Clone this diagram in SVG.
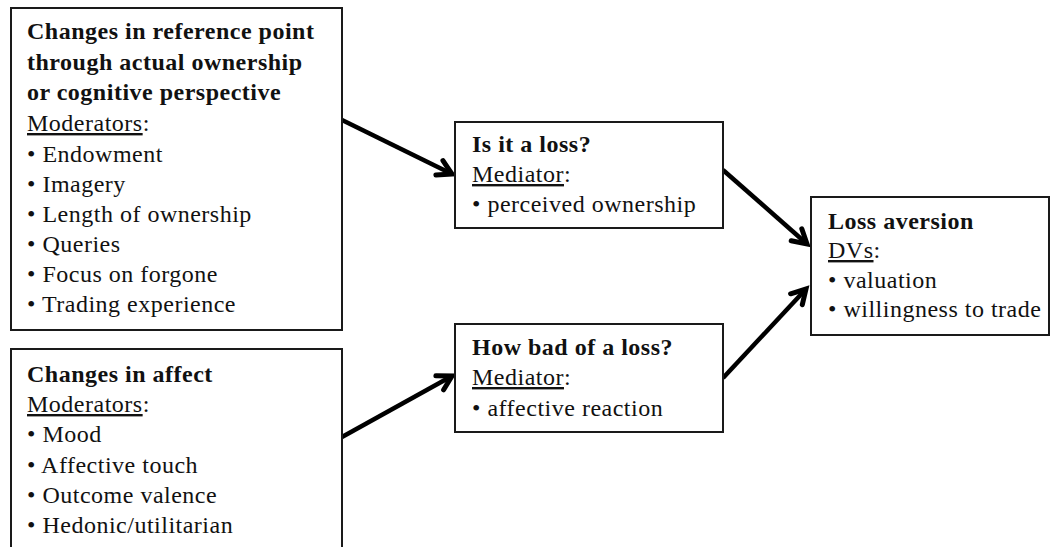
<svg xmlns="http://www.w3.org/2000/svg" width="1051" height="547" viewBox="0 0 1051 547">
<style>
.box{fill:#fff;stroke:#1a1a1a;stroke-width:2}
text{font-family:"Liberation Serif","Times New Roman",serif;font-size:24px;fill:#111;letter-spacing:0.5px}
.b{font-weight:bold}
.u{text-decoration:underline}
.conn{stroke:#000;stroke-width:4.5;fill:none}
</style>
<defs>
<marker id="ah" markerUnits="userSpaceOnUse" markerWidth="40" markerHeight="40" orient="auto" overflow="visible" refX="0" refY="0">
<path d="M-14,-8 L0,0 L-14,8" fill="none" stroke="#000" stroke-width="5" stroke-linejoin="miter" stroke-linecap="round"/>
</marker>
</defs>
<rect width="1051" height="547" fill="#fff"/>
<g id="connectors">
<line class="conn" x1="342" y1="120" x2="452" y2="174" marker-end="url(#ah)"/>
<line class="conn" x1="342" y1="437" x2="452" y2="376" marker-end="url(#ah)"/>
<line class="conn" x1="723" y1="170" x2="807" y2="244" marker-end="url(#ah)"/>
<line class="conn" x1="723" y1="378" x2="806" y2="289" marker-end="url(#ah)"/>
</g>
<g id="node-reference">
<rect class="box" x="11" y="8" width="331" height="322"/>
<text x="27" y="39" class="b">Changes in reference point</text>
<text x="27" y="70" class="b">through actual ownership</text>
<text x="27" y="100" class="b">or cognitive perspective</text>
<text x="27" y="131"><tspan class="u">Moderators</tspan>:</text>
<text x="27" y="162">• Endowment</text>
<text x="27" y="192">• Imagery</text>
<text x="27" y="222">• Length of ownership</text>
<text x="27" y="252">• Queries</text>
<text x="27" y="282">• Focus on forgone</text>
<text x="27" y="312">• Trading experience</text>
</g>
<g id="node-affect">
<rect class="box" x="11" y="349" width="331" height="210"/>
<text x="27" y="382" class="b">Changes in affect</text>
<text x="27" y="412"><tspan class="u">Moderators</tspan>:</text>
<text x="27" y="442">• Mood</text>
<text x="27" y="473">• Affective touch</text>
<text x="27" y="503">• Outcome valence</text>
<text x="27" y="533">• Hedonic/utilitarian</text>
</g>
<g id="node-isloss">
<rect class="box" x="455" y="122" width="268" height="106"/>
<text x="472" y="152" class="b">Is it a loss?</text>
<text x="472" y="182"><tspan class="u">Mediator</tspan>:</text>
<text x="472" y="212">• perceived ownership</text>
</g>
<g id="node-howbad">
<rect class="box" x="455" y="324" width="268" height="108"/>
<text x="472" y="355" class="b">How bad of a loss?</text>
<text x="472" y="385"><tspan class="u">Mediator</tspan>:</text>
<text x="472" y="416">• affective reaction</text>
</g>
<g id="node-lossaversion">
<rect class="box" x="811" y="197" width="238" height="138"/>
<text x="828" y="229" class="b">Loss aversion</text>
<text x="828" y="258"><tspan class="u">DVs</tspan>:</text>
<text x="828" y="288">• valuation</text>
<text x="828" y="317">• willingness to trade</text>
</g>
</svg>
